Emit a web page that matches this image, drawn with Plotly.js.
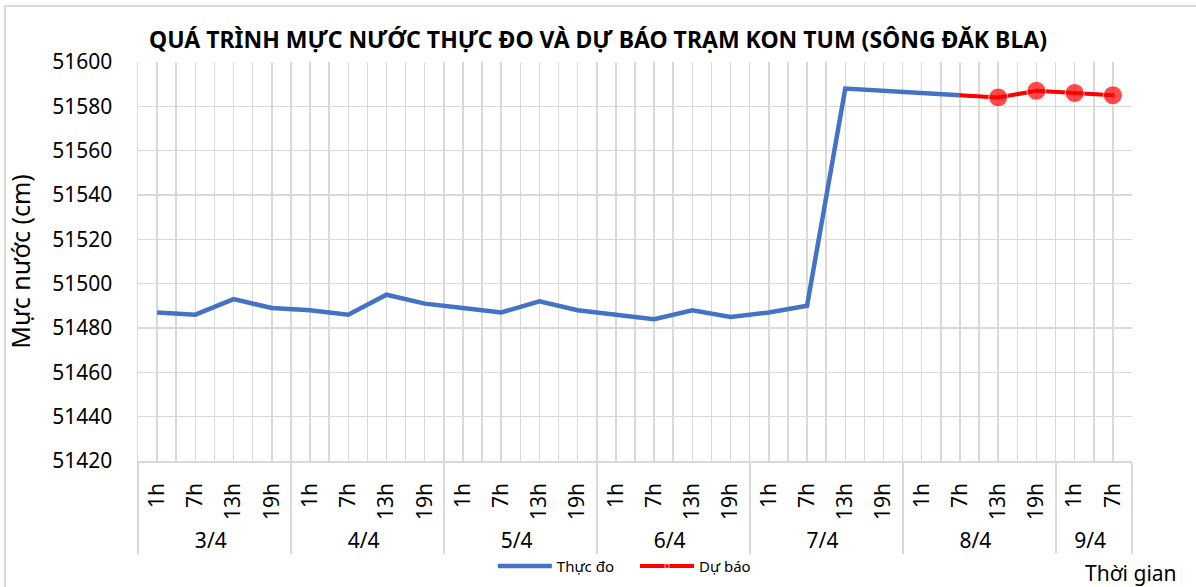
<!DOCTYPE html>
<html>
<head>
<meta charset="utf-8">
<script src="https://cdn.plot.ly/plotly-3.0.1.min.js"></script>
<style>
  html, body { margin: 0; padding: 0; background: #ffffff; }
  #chart { width: 1196px; height: 587px; }
  #frame { position: absolute; left: 4px; top: 5px; width: 1300px; height: 700px;
           border: 2px solid #d9d9d9; pointer-events: none; box-sizing: border-box; }
</style>
</head>
<body>
<div id="chart"></div>
<div id="frame"></div>
<script>
// ---- data ----
const days = ['3/4','3/4','3/4','3/4','4/4','4/4','4/4','4/4','5/4','5/4','5/4','5/4',
              '6/4','6/4','6/4','6/4','7/4','7/4','7/4','7/4','8/4','8/4','8/4','8/4','9/4','9/4'];
const hours = ['1h','7h','13h','19h','1h','7h','13h','19h','1h','7h','13h','19h',
               '1h','7h','13h','19h','1h','7h','13h','19h','1h','7h','13h','19h','1h','7h'];
const observed = [51487, 51486, 51493, 51489, 51488, 51486, 51495, 51491,
                  51489, 51487, 51492, 51488, 51486, 51484, 51488, 51485,
                  51487, 51490, 51588, 51587, 51586, 51585];
const forecast = [51585, 51584, 51587, 51586, 51585];
const forecastStart = 21;
const seriesNames = ['Thực đo', 'Dự báo'];

const FONT = 'Noto Sans, DejaVu Sans, sans-serif';

const obsX = [days.slice(0, observed.length), hours.slice(0, observed.length)];
const fcX = [days.slice(forecastStart, forecastStart + forecast.length),
             hours.slice(forecastStart, forecastStart + forecast.length)];

const traces = [
  // helper (draws nothing): gives the overlay axis its categories so its grid sits on the labels
  { x: [days, hours], y: hours.map(() => null), type: 'scatter', mode: 'lines',
    xaxis: 'x2', yaxis: 'y', showlegend: false, hoverinfo: 'skip' },
  { x: obsX, y: observed, type: 'scatter', mode: 'lines', name: seriesNames[0],
    legend: 'legend', showlegend: true,
    line: { color: '#4472C4', width: 4.5 } },
  // legend entry for the forecast (small marker), drawn under the real forecast trace
  { x: fcX, y: forecast, type: 'scatter', mode: 'lines+markers', name: seriesNames[1],
    legend: 'legend2', showlegend: true,
    line: { color: '#FF0000', width: 4 },
    marker: { color: '#FF0000', size: forecast.map((v, i) => i === 0 ? 0 : 6) } },
  { x: fcX, y: forecast, type: 'scatter', mode: 'lines+markers', name: seriesNames[1],
    showlegend: false,
    line: { color: '#FF0000', width: 3 },
    marker: { color: '#FF0000', size: forecast.map((v, i) => i === 0 ? 0 : 19) } }
];

const legendCommon = { orientation: 'h', xanchor: 'left', yanchor: 'middle', y: -0.264,
  font: { family: FONT, size: 15, color: '#000' }, itemwidth: 54,
  bgcolor: 'rgba(0,0,0,0)', borderwidth: 0, tracegroupgap: 0 };

const layout = {
  width: 1196, height: 587,
  margin: { l: 138, r: 64, t: 62, b: 126, autoexpand: false },
  paper_bgcolor: '#ffffff', plot_bgcolor: '#ffffff',
  font: { family: FONT, color: '#000000', size: 20 },
  title: { text: '<b>QUÁ TRÌNH MỰC NƯỚC THỰC ĐO VÀ DỰ BÁO TRẠM KON TUM (SÔNG ĐĂK BLA)</b>',
           font: { family: FONT, size: 23, color: '#000000' },
           x: 0.5, xanchor: 'center', xref: 'container', y: 0.932, yanchor: 'middle' },
  showlegend: true,
  legend: Object.assign({}, legendCommon, { x: 0.357 }),
  legend2: Object.assign({}, legendCommon, { x: 0.5 }),
  xaxis: {
    type: 'multicategory', automargin: false,
    range: [-0.5, 25.5], autorange: false,
    showgrid: true, gridcolor: '#d9d9d9', gridwidth: 1.5,
    showline: true, linecolor: '#d9d9d9', linewidth: 1.5,
    ticks: '', ticklabelstandoff: 12,
    tickangle: -90,
    tickfont: { family: FONT, size: 21, color: '#000' },
    showdividers: true, dividercolor: '#d9d9d9', dividerwidth: 2,
    zeroline: false
  },
  xaxis2: {
    overlaying: 'x', type: 'multicategory', tickson: 'labels',
    range: [-0.5, 25.5], autorange: false,
    showgrid: true, gridcolor: '#d9d9d9', gridwidth: 1.5, showticklabels: false,
    showdividers: false,
    ticks: '', zeroline: false, showline: false, side: 'bottom', automargin: false
  },
  yaxis: {
    range: [51420, 51600], dtick: 20, tick0: 51420, tickformat: 'd', automargin: false,
    showgrid: true, gridcolor: '#d9d9d9', gridwidth: 1.5,
    showline: true, linecolor: '#d9d9d9', linewidth: 1.5,
    ticks: '', zeroline: false, ticklabelstandoff: 20,
    tickfont: { family: FONT, size: 21, color: '#000' },
    title: { text: 'Mực nước (cm)', font: { family: FONT, size: 25, color: '#000' }, standoff: 14 }
  },
  annotations: [
    { text: 'Thời gian', xref: 'paper', yref: 'paper', x: 0.999, y: -0.281,
      xanchor: 'center', yanchor: 'middle', showarrow: false,
      font: { family: FONT, size: 21, color: '#000' } }
  ]
};

Plotly.newPlot('chart', traces, layout, { displayModeBar: false, staticPlot: true });
</script>
</body>
</html>
